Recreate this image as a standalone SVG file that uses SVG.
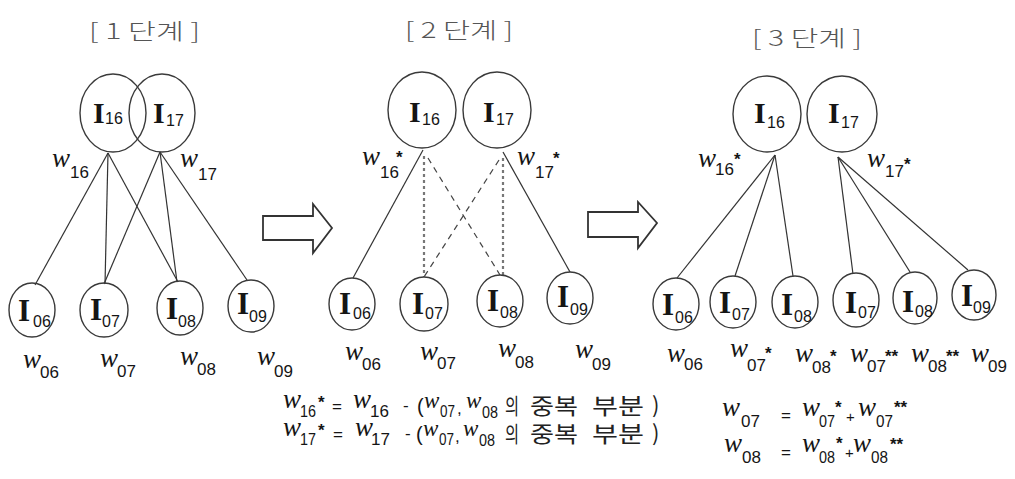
<svg xmlns="http://www.w3.org/2000/svg" width="1015" height="479" viewBox="0 0 1015 479">
<style>
.n ellipse{fill:none;stroke:#3a3a3a;stroke-width:1.4}
.I{font-family:"Liberation Serif",serif;font-weight:bold;font-size:30px;fill:#151515}
.b .I{font-size:31px}
.s{font-family:"Liberation Sans",sans-serif;font-size:16px;fill:#151515}
.w{font-family:"Liberation Serif",serif;font-style:italic;font-size:27px;fill:#151515}
.ws{font-family:"Liberation Sans",sans-serif;font-size:17px;fill:#151515}
.st{font-family:"Liberation Sans",sans-serif;font-weight:bold;font-size:17px;fill:#151515}
.op{font-family:"Liberation Sans",sans-serif;font-size:17px;fill:#151515}
.t{font-family:"Noto Sans CJK KR",sans-serif;font-weight:300;font-size:22px;fill:#555}
.k{font-family:"Noto Sans CJK KR",sans-serif;font-size:22px;fill:#222}
.c line{stroke:#333;stroke-width:1.2}
.c line.dot{stroke:#777;stroke-width:2.2;stroke-dasharray:3 3}
.c line.dash{stroke:#444;stroke-dasharray:6 5}
.arrow{fill:#fff;stroke:#333;stroke-width:1.8}
</style>

<g id="titles">
<text class="t" x="89" y="39" textLength="111" lengthAdjust="spacingAndGlyphs">[ 1 단계 ]</text>
<text class="t" x="405" y="38" textLength="108" lengthAdjust="spacingAndGlyphs">[ 2 단계 ]</text>
<text class="t" x="752" y="46" textLength="110" lengthAdjust="spacingAndGlyphs">[ 3 단계 ]</text>
</g>

<g id="connectors" class="c">
<line x1="108" y1="153" x2="35" y2="285"/>
<line x1="108" y1="153" x2="105" y2="284"/>
<line x1="108" y1="153" x2="178" y2="282"/>
<line x1="160" y1="152" x2="104" y2="284"/>
<line x1="160" y1="152" x2="177" y2="282"/>
<line x1="160" y1="152" x2="247" y2="280"/>
<line x1="423" y1="150" x2="353" y2="278"/>
<line class="dot" x1="424" y1="156" x2="424" y2="277"/>
<line class="dash" x1="428" y1="158" x2="500" y2="275"/>
<line x1="503" y1="152" x2="570" y2="272"/>
<line class="dot" x1="503" y1="158" x2="503" y2="275"/>
<line class="dash" x1="499" y1="160" x2="424" y2="277"/>
<line x1="775" y1="155" x2="677" y2="278"/>
<line x1="775" y1="155" x2="735" y2="276"/>
<line x1="775" y1="155" x2="793" y2="276"/>
<line x1="838" y1="157" x2="853" y2="274"/>
<line x1="838" y1="157" x2="910" y2="272"/>
<line x1="838" y1="157" x2="968" y2="270"/>
</g>

<g id="arrows">
<polygon class="arrow" points="263,216 313,216 313,204 332,228 313,253 313,240 263,240"/>
<polygon class="arrow" points="588,212 638,212 638,202 657,223 638,248 638,237 588,237"/>
</g>

<g id="s1-I16" class="n"><ellipse cx="113" cy="113" rx="33" ry="39"/>
<text class="I" x="93" y="123">I</text><text class="s" x="105" y="124">16</text>
<text class="w" x="52" y="167">w</text><text class="ws" x="70" y="178">16</text></g>
<g id="s1-I17" class="n"><ellipse cx="162" cy="113" rx="33" ry="39"/>
<text class="I" x="153" y="123">I</text><text class="s" x="166" y="126">17</text>
<text class="w" x="180" y="167">w</text><text class="ws" x="198" y="180">17</text></g>
<g id="s1-I06" class="n b"><ellipse cx="32" cy="310" rx="23" ry="27"/>
<text class="I" x="18" y="321">I</text><text class="s" x="33" y="327">06</text>
<text class="w" x="23" y="368">w</text><text class="ws" x="40" y="378">06</text></g>
<g id="s1-I07" class="n b"><ellipse cx="104" cy="310" rx="24" ry="27"/>
<text class="I" x="90" y="320">I</text><text class="s" x="102" y="327">07</text>
<text class="w" x="100" y="367">w</text><text class="ws" x="117" y="377">07</text></g>
<g id="s1-I08" class="n b"><ellipse cx="180" cy="308" rx="23" ry="27"/>
<text class="I" x="166" y="319">I</text><text class="s" x="178" y="327">08</text>
<text class="w" x="180" y="365">w</text><text class="ws" x="197" y="375">08</text></g>
<g id="s1-I09" class="n b"><ellipse cx="251" cy="306" rx="23" ry="26"/>
<text class="I" x="237" y="314">I</text><text class="s" x="249" y="322">09</text>
<text class="w" x="257" y="365">w</text><text class="ws" x="274" y="377">09</text></g>

<g id="s2-I16" class="n"><ellipse cx="422" cy="110" rx="34" ry="38"/>
<text class="I" x="409" y="122">I</text><text class="s" x="422" y="125">16</text>
<text class="w" x="362" y="165">w</text><text class="ws" x="380" y="178">16</text><text class="st" x="396" y="163">*</text></g>
<g id="s2-I17" class="n"><ellipse cx="497" cy="110" rx="34" ry="38"/>
<text class="I" x="483" y="122">I</text><text class="s" x="496" y="125">17</text>
<text class="w" x="517" y="165">w</text><text class="ws" x="535" y="178">17</text><text class="st" x="553" y="164">*</text></g>
<g id="s2-I06" class="n b"><ellipse cx="352" cy="304" rx="23" ry="26"/>
<text class="I" x="339" y="314">I</text><text class="s" x="353" y="319">06</text>
<text class="w" x="345" y="360">w</text><text class="ws" x="362" y="370">06</text></g>
<g id="s2-I07" class="n b"><ellipse cx="424" cy="304" rx="24" ry="27"/>
<text class="I" x="412" y="314">I</text><text class="s" x="425" y="319">07</text>
<text class="w" x="420" y="360">w</text><text class="ws" x="437" y="369">07</text></g>
<g id="s2-I08" class="n b"><ellipse cx="500" cy="301" rx="23" ry="26"/>
<text class="I" x="487" y="311">I</text><text class="s" x="500" y="318">08</text>
<text class="w" x="498" y="357">w</text><text class="ws" x="515" y="368">08</text></g>
<g id="s2-I09" class="n b"><ellipse cx="570" cy="298" rx="23" ry="26"/>
<text class="I" x="557" y="307">I</text><text class="s" x="570" y="315">09</text>
<text class="w" x="575" y="358">w</text><text class="ws" x="592" y="370">09</text></g>

<g id="s3-I16" class="n"><ellipse cx="767" cy="114" rx="34" ry="38"/>
<text class="I" x="754" y="123">I</text><text class="s" x="767" y="128">16</text>
<text class="w" x="698" y="167">w</text><text class="ws" x="715" y="175">16</text><text class="st" x="734" y="165">*</text></g>
<g id="s3-I17" class="n"><ellipse cx="842" cy="114" rx="35" ry="38"/>
<text class="I" x="828" y="123">I</text><text class="s" x="841" y="128">17</text>
<text class="w" x="867" y="167">w</text><text class="ws" x="885" y="177">17</text><text class="st" x="904" y="170">*</text></g>
<g id="s3-I06" class="n b"><ellipse cx="676" cy="304" rx="23" ry="26"/>
<text class="I" x="662" y="315">I</text><text class="s" x="675" y="323">06</text>
<text class="w" x="667" y="362">w</text><text class="ws" x="684" y="370">06</text></g>
<g id="s3-I07a" class="n b"><ellipse cx="733" cy="302" rx="23" ry="26"/>
<text class="I" x="719" y="313">I</text><text class="s" x="732" y="320">07</text>
<text class="w" x="730" y="357">w</text><text class="ws" x="747" y="371">07</text><text class="st" x="765" y="359">*</text></g>
<g id="s3-I08a" class="n b"><ellipse cx="795" cy="302" rx="23" ry="26"/>
<text class="I" x="781" y="315">I</text><text class="s" x="794" y="322">08</text>
<text class="w" x="795" y="362">w</text><text class="ws" x="812" y="373">08</text><text class="st" x="830" y="362">*</text></g>
<g id="s3-I07b" class="n b"><ellipse cx="856" cy="300" rx="23" ry="27"/>
<text class="I" x="845" y="313">I</text><text class="s" x="858" y="318">07</text>
<text class="w" x="850" y="362">w</text><text class="ws" x="867" y="372">07</text><text class="st" x="885" y="362">**</text></g>
<g id="s3-I08b" class="n b"><ellipse cx="915" cy="298" rx="22" ry="26"/>
<text class="I" x="902" y="312">I</text><text class="s" x="915" y="317">08</text>
<text class="w" x="911" y="362">w</text><text class="ws" x="928" y="372">08</text><text class="st" x="946" y="362">**</text></g>
<g id="s3-I09" class="n b"><ellipse cx="974" cy="295" rx="22" ry="25"/>
<text class="I" x="961" y="306">I</text><text class="s" x="973" y="313">09</text>
<text class="w" x="971" y="362">w</text><text class="ws" x="988" y="372">09</text></g>

<g id="equations">
<text class="w" x="283" y="408">w</text><text class="ws" x="300" y="417" textLength="16" lengthAdjust="spacingAndGlyphs">16</text><text class="st" x="318" y="408">*</text>
<text class="op" x="332" y="412">=</text>
<text class="w" x="353" y="408">w</text><text class="ws" x="370" y="417">16</text>
<text class="op" x="403" y="411">-</text>
<text class="op" x="417" y="413" style="font-size:20px">(</text>
<text class="w" x="424" y="408" style="font-size:23px">w</text><text class="ws" x="440" y="417" textLength="15" lengthAdjust="spacingAndGlyphs">07</text>
<text class="op" x="457" y="414">,</text>
<text class="w" x="466" y="408" style="font-size:23px">w</text><text class="ws" x="482" y="418" textLength="16" lengthAdjust="spacingAndGlyphs">08</text>
<text class="k" x="505" y="414" textLength="14" lengthAdjust="spacingAndGlyphs">의</text><text class="k" x="530" y="414" textLength="48" lengthAdjust="spacingAndGlyphs">중복</text><text class="k" x="592" y="414" textLength="52" lengthAdjust="spacingAndGlyphs">부분</text><text class="k" x="652" y="413">)</text>

<text class="w" x="283" y="436">w</text><text class="ws" x="300" y="445" textLength="16" lengthAdjust="spacingAndGlyphs">17</text><text class="st" x="318" y="436">*</text>
<text class="op" x="333" y="440">=</text>
<text class="w" x="355" y="436">w</text><text class="ws" x="371" y="445">17</text>
<text class="op" x="405" y="439">-</text>
<text class="op" x="416" y="441" style="font-size:20px">(</text>
<text class="w" x="423" y="436" style="font-size:23px">w</text><text class="ws" x="439" y="445" textLength="15" lengthAdjust="spacingAndGlyphs">07</text>
<text class="op" x="455" y="442">,</text>
<text class="w" x="463" y="436" style="font-size:23px">w</text><text class="ws" x="479" y="446" textLength="16" lengthAdjust="spacingAndGlyphs">08</text>
<text class="k" x="505" y="442" textLength="14" lengthAdjust="spacingAndGlyphs">의</text><text class="k" x="530" y="442" textLength="48" lengthAdjust="spacingAndGlyphs">중복</text><text class="k" x="592" y="442" textLength="52" lengthAdjust="spacingAndGlyphs">부분</text><text class="k" x="652" y="441">)</text>

<text class="w" x="722" y="416">w</text><text class="ws" x="741" y="427">07</text>
<text class="op" x="781" y="421">=</text>
<text class="w" x="802" y="416">w</text><text class="ws" x="819" y="427" textLength="16" lengthAdjust="spacingAndGlyphs">07</text><text class="st" x="835" y="413">*</text>
<text class="op" x="846" y="422" style="font-size:15px">+</text>
<text class="w" x="858" y="416">w</text><text class="ws" x="876" y="427" textLength="17" lengthAdjust="spacingAndGlyphs">07</text><text class="st" x="894" y="413">**</text>

<text class="w" x="724" y="452">w</text><text class="ws" x="742" y="463">08</text>
<text class="op" x="781" y="458">=</text>
<text class="w" x="802" y="452">w</text><text class="ws" x="819" y="463" textLength="16" lengthAdjust="spacingAndGlyphs">08</text><text class="st" x="836" y="449">*</text>
<text class="op" x="845" y="458" style="font-size:15px">+</text>
<text class="w" x="853" y="452">w</text><text class="ws" x="871" y="463" textLength="17" lengthAdjust="spacingAndGlyphs">08</text><text class="st" x="890" y="450">**</text>
</g>
</svg>
